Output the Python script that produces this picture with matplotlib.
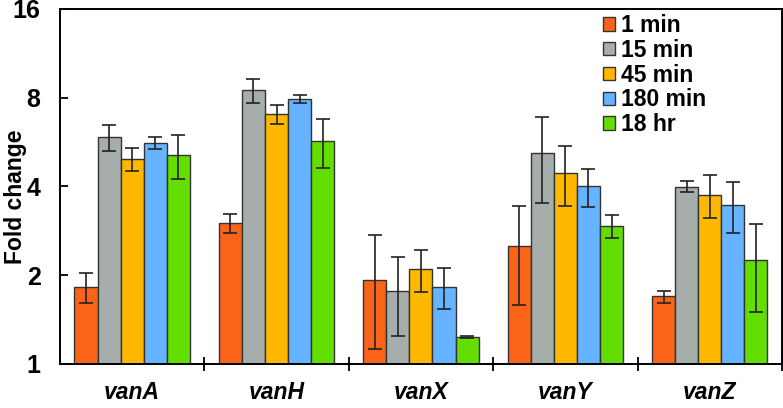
import matplotlib.pyplot as plt
import numpy as np
from matplotlib.ticker import FixedLocator, NullFormatter

plt.rcParams['font.family'] = ['Liberation Sans', 'DejaVu Sans']

genes = ["vanA", "vanH", "vanX", "vanY", "vanZ"]
times = ["1 min", "15 min", "45 min", "180 min", "18 hr"]
colors = ["#F96419", "#A6AEAB", "#FFB800", "#66B3FF", "#64DD00"]

# fold change per time point (rows) for each gene (columns)
fold = [
    [1.83, 3.01, 1.93, 2.52, 1.70],
    [5.90, 8.50, 1.77, 5.21, 3.99],
    [4.96, 7.05, 2.10, 4.46, 3.75],
    [5.63, 7.92, 1.83, 4.02, 3.45],
    [5.10, 5.71, 1.23, 2.93, 2.25],
]
err_hi = [
    [2.04, 3.23, 2.74, 3.43, 1.77],
    [6.47, 9.26, 2.30, 6.88, 4.16],
    [5.42, 7.54, 2.44, 5.47, 4.38],
    [5.89, 8.15, 2.12, 4.60, 4.14],
    [5.96, 6.78, 1.24, 3.19, 2.99],
]
err_lo = [
    [1.61, 2.79, 1.12, 1.59, 1.61],
    [5.28, 7.70, 1.24, 3.51, 3.83],
    [4.50, 6.53, 1.75, 3.44, 3.12],
    [5.36, 7.68, 1.54, 3.42, 2.77],
    [4.23, 4.63, 1.22, 2.67, 1.50],
]

fig = plt.figure(figsize=(7.83, 4.08), dpi=100)
ax = fig.add_axes([0.0766, 0.108, 0.922, 0.870])

x = np.arange(len(genes))
width = 0.16
for i, t in enumerate(times):
    vals = np.array(fold[i])
    hi = np.array(err_hi[i])
    lo = np.array(err_lo[i])
    pos = x + (i - 2) * width
    ax.bar(pos, vals, width, color=colors[i], edgecolor="#333333", linewidth=1.0,
           label=t, zorder=2)
    ax.errorbar(pos, vals, yerr=[vals - lo, hi - vals], fmt="none", ecolor="#222222",
                elinewidth=1.2, capsize=5, capthick=1.2, zorder=3)

ax.set_yscale("log", base=2)
ax.set_ylim(1, 16)
ax.set_xlim(-0.5, 4.5)
ax.set_yticks([1, 2, 4, 8, 16])
ax.set_yticklabels(["1", "2", "4", "8", "16"], fontsize=18, fontweight="bold")
ax.yaxis.set_minor_locator(FixedLocator([]))
ax.yaxis.set_minor_formatter(NullFormatter())
ax.tick_params(axis="y", direction="in", length=6, width=1.3, pad=14)

ax.set_xticks(x)
ax.set_xticklabels(genes, fontsize=16.5, fontweight="bold", fontstyle="italic")
ax.tick_params(axis="x", which="major", length=0, pad=12)
ax.xaxis.set_minor_locator(FixedLocator([0.5, 1.5, 2.5, 3.5, 4.5]))
ax.tick_params(axis="x", which="minor", direction="inout", length=10, width=1.3)

ax.set_ylabel("Fold change", fontsize=16.5, fontweight="bold")
ax.yaxis.set_label_coords(-0.045, 0.47)
for s in ax.spines.values():
    s.set_linewidth(1.4)

leg = ax.legend(loc="upper left", bbox_to_anchor=(0.739, 1.012), frameon=False,
                prop={"size": 16.5, "weight": "bold"}, handlelength=0.53,
                handleheight=0.53, handletextpad=0.25, labelspacing=0.08,
                borderaxespad=0)

fig.savefig("out.png", dpi=100)
